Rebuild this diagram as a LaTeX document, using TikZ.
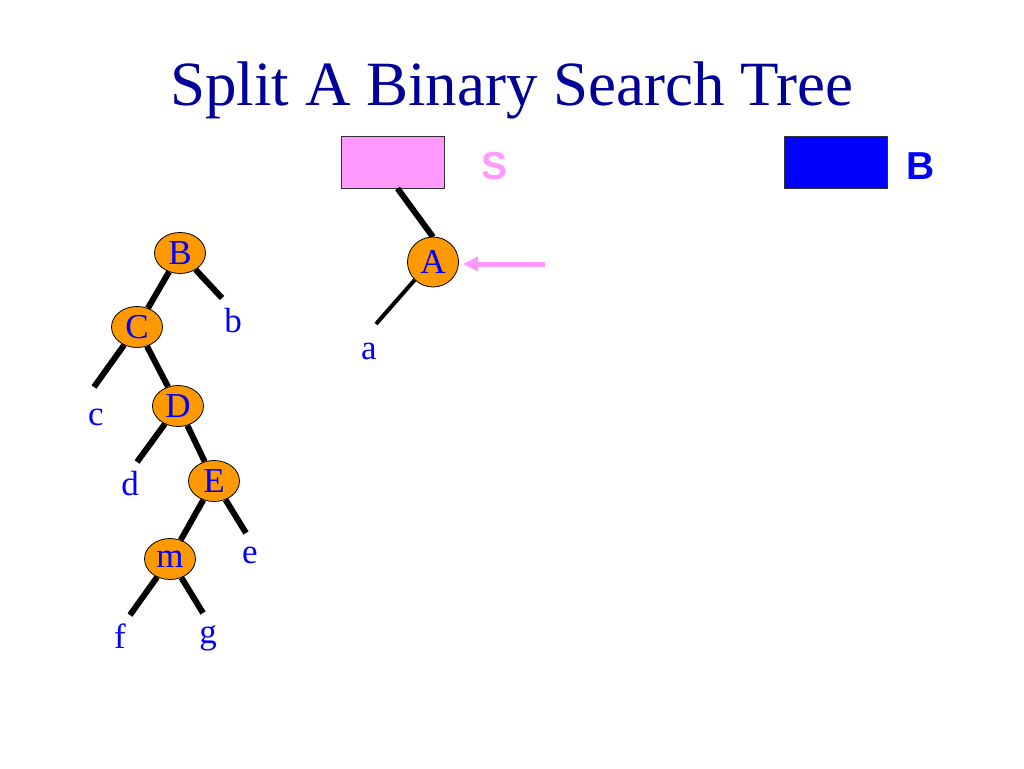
\documentclass[tikz,border=0pt]{standalone}
\usepackage{fontspec}
\setmainfont{Liberation Serif}
\newfontfamily\boxfont{Liberation Sans}
\usepackage{tikz}
\usetikzlibrary{arrows.meta,shapes.geometric}
\definecolor{titlenavy}{RGB}{0,0,153}
\definecolor{keyblue}{RGB}{0,0,255}
\definecolor{nodeorange}{RGB}{255,153,0}
\definecolor{smallpink}{RGB}{255,153,255}
\newcommand{\bstleaf}[4]{%
  \coordinate (l#2end) at (#3);%
  \draw[treeedge] (#1) -- (l#2end);%
  \node[leaftext] (l#2) at (#4) {#2};%
}

\begin{document}
\begin{tikzpicture}[x=1pt,y=-1pt,
  bstnode/.style={ellipse,draw=black,line width=0.8pt,fill=nodeorange,inner sep=0pt,
    minimum width=51pt,minimum height=41pt,text=keyblue,font=\fontsize{35}{35}\selectfont},
  leaftext/.style={anchor=base,text=keyblue,font=\fontsize{35}{35}\selectfont},
  treeedge/.style={line width=6pt},
  rootbox/.style={draw=black!80,line width=0.8pt,minimum width=103pt,minimum height=52pt,inner sep=0pt},
  boxlabel/.style={font=\boxfont\bfseries\fontsize{39}{39}\selectfont}]
  \useasboundingbox (0,0) rectangle (1024,768);
  \node[anchor=base,text=titlenavy,font=\fontsize{63}{70}\selectfont] (title) at (512,105) {Split A Binary Search Tree};
  \node[rootbox,fill=smallpink] (Sbox) at (392.5,162) {};
  \node[boxlabel,text=smallpink] (Slabel) at (494,166) {S};
  \node[rootbox,fill=keyblue] (Bbox) at (836,162) {};
  \node[boxlabel,text=keyblue] (Blabel) at (921,166) {B};
  \draw[treeedge] ([xshift=5pt]Sbox.south) -- (433,237) coordinate (Atop);
  \node[bstnode,minimum height=50pt] (A) at (433,262) {A};
  \draw[line width=4pt] (A.south west) -- (376,324) coordinate (laend);
  \node[leaftext] (la) at (369,359) {a};
  \coordinate (arrowstart) at (545,264);
  \draw[smallpink,line width=5pt,-{Triangle[length=15pt,width=14pt]},shorten >=4pt] (arrowstart) -- (A.east |- arrowstart);
  \node[bstnode] (B) at (180,253) {B};
  \node[bstnode] (C) at (137,327) {C};
  \node[bstnode] (D) at (178,406) {D};
  \node[bstnode] (E) at (214,481) {E};
  \node[bstnode] (m) at (170,559) {m};
  \draw[treeedge] (B) -- (C);
  \draw[treeedge] (C) -- (D);
  \draw[treeedge] (D) -- (E);
  \draw[treeedge] (E) -- (m);
  \bstleaf{B}{b}{222,298}{233,332}
  \bstleaf{C}{c}{94,387}{96,425}
  \bstleaf{D}{d}{137,462}{130,495}
  \bstleaf{E}{e}{246,533}{250,563}
  \bstleaf{m}{f}{130,615}{120,648}
  \bstleaf{m}{g}{203,613}{208,643}
\end{tikzpicture}
\end{document}
